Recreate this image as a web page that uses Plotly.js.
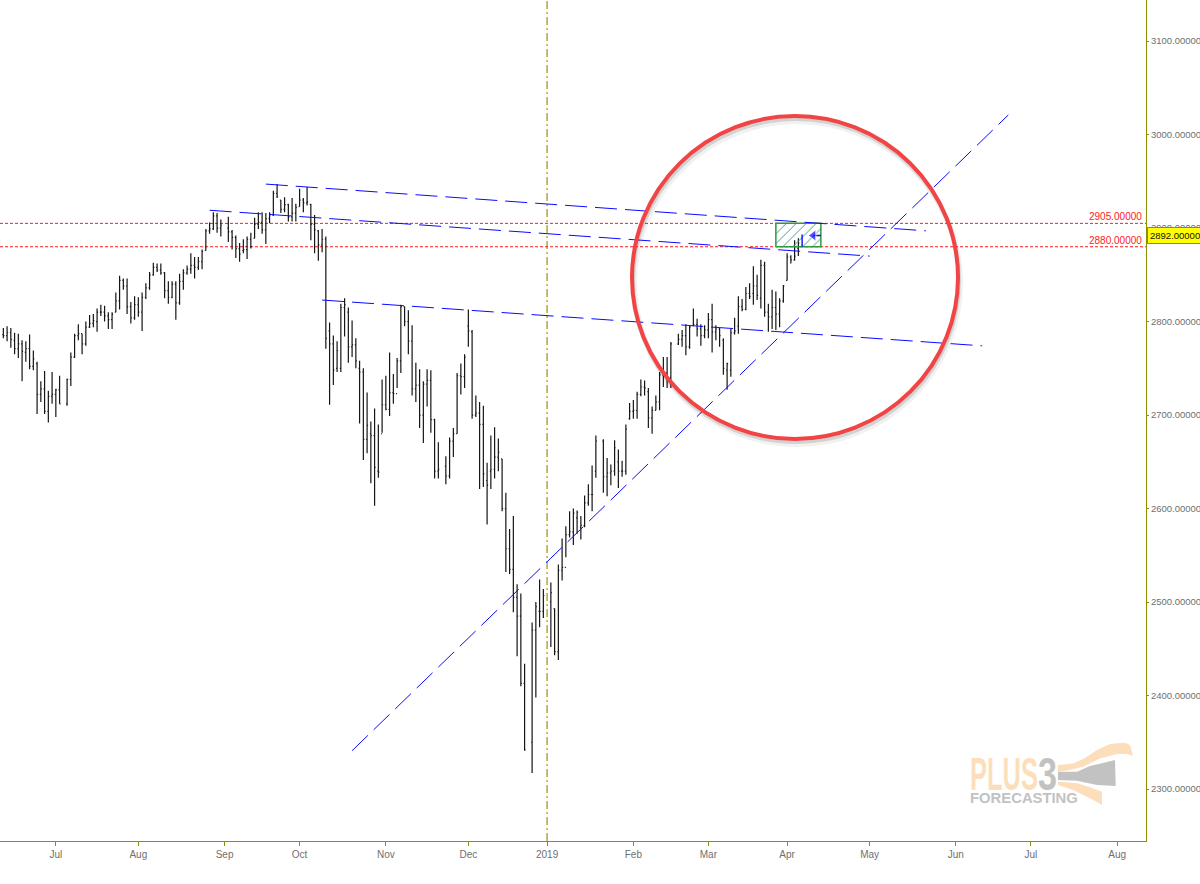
<!DOCTYPE html>
<html>
<head>
<meta charset="utf-8">
<script src="https://cdn.plot.ly/plotly-3.0.1.min.js"></script>
<style>html,body{margin:0;padding:0;background:#fff;overflow:hidden}#chart{width:1200px;height:884px}</style>
</head>
<body>
<div id="chart"></div>
<script>
const sessionDates = [
"2018-06-12","2018-06-13","2018-06-14","2018-06-15","2018-06-18","2018-06-19","2018-06-20","2018-06-21","2018-06-22","2018-06-25","2018-06-26","2018-06-27","2018-06-28","2018-06-29",
"2018-07-02","2018-07-03","2018-07-05","2018-07-06","2018-07-09","2018-07-10","2018-07-11","2018-07-12","2018-07-13","2018-07-16","2018-07-17","2018-07-18","2018-07-19","2018-07-20","2018-07-23","2018-07-24","2018-07-25","2018-07-26","2018-07-27","2018-07-30","2018-07-31",
"2018-08-01","2018-08-02","2018-08-03","2018-08-06","2018-08-07","2018-08-08","2018-08-09","2018-08-10","2018-08-13","2018-08-14","2018-08-15","2018-08-16","2018-08-17","2018-08-20","2018-08-21","2018-08-22","2018-08-23","2018-08-24","2018-08-27","2018-08-28","2018-08-29","2018-08-30","2018-08-31",
"2018-09-04","2018-09-05","2018-09-06","2018-09-07","2018-09-10","2018-09-11","2018-09-12","2018-09-13","2018-09-14","2018-09-17","2018-09-18","2018-09-19","2018-09-20","2018-09-21","2018-09-24","2018-09-25","2018-09-26","2018-09-27","2018-09-28",
"2018-10-01","2018-10-02","2018-10-03","2018-10-04","2018-10-05","2018-10-08","2018-10-09","2018-10-10","2018-10-11","2018-10-12","2018-10-15","2018-10-16","2018-10-17","2018-10-18","2018-10-19","2018-10-22","2018-10-23","2018-10-24","2018-10-25","2018-10-26","2018-10-29","2018-10-30","2018-10-31",
"2018-11-01","2018-11-02","2018-11-05","2018-11-06","2018-11-07","2018-11-08","2018-11-09","2018-11-12","2018-11-13","2018-11-14","2018-11-15","2018-11-16","2018-11-19","2018-11-20","2018-11-21","2018-11-23","2018-11-26","2018-11-27","2018-11-28","2018-11-29","2018-11-30",
"2018-12-03","2018-12-04","2018-12-05","2018-12-06","2018-12-07","2018-12-10","2018-12-11","2018-12-12","2018-12-13","2018-12-14","2018-12-17","2018-12-18","2018-12-19","2018-12-20","2018-12-21","2018-12-24","2018-12-26","2018-12-27","2018-12-28","2018-12-31",
"2019-01-02","2019-01-03","2019-01-04","2019-01-07","2019-01-08","2019-01-09","2019-01-10","2019-01-11","2019-01-14","2019-01-15","2019-01-16","2019-01-17","2019-01-18","2019-01-22","2019-01-23","2019-01-24","2019-01-25","2019-01-28","2019-01-29","2019-01-30","2019-01-31",
"2019-02-01","2019-02-04","2019-02-05","2019-02-06","2019-02-07","2019-02-08","2019-02-11","2019-02-12","2019-02-13","2019-02-14","2019-02-15","2019-02-19","2019-02-20","2019-02-21","2019-02-22","2019-02-25","2019-02-26","2019-02-27","2019-02-28",
"2019-03-01","2019-03-04","2019-03-05","2019-03-06","2019-03-07","2019-03-08","2019-03-11","2019-03-12","2019-03-13","2019-03-14","2019-03-15","2019-03-18","2019-03-19","2019-03-20","2019-03-21","2019-03-22","2019-03-25","2019-03-26","2019-03-27","2019-03-28","2019-03-29",
"2019-04-01","2019-04-02","2019-04-03","2019-04-04"];

const openVals = [
2786,2785,2788,2780,2771,2776,2767,2771,2752,2755,2722,2728,2704,2720,2722,2727,
2712,2738,2762,2785,2787,2776,2794,2798,2800,2810,2810,2806,2802,2810,2822,2844,2838,2816,2804,2818,
2810,2826,2836,2850,2858,2855,2852,2833,2826,2840,2820,2843,2852,2856,2860,2858,2864,2876,2897,2899,2913,2900,
2900,2896,2890,2878,2876,2877,2888,2889,2904,2906,2898,2910,2914,2937,2930,2920,2925,2912,2916,
2923,2930,2927,2925,2904,2897,2882,2888,2790,2776,2750,2750,2815,2810,2773,2775,2750,2746,2674,2680,2678,2640,2680,
2711,2706,2724,2723,2758,2816,2800,2779,2728,2732,2700,2733,2737,2695,2640,2645,2635,2672,2680,2742,2741,
2795,2789,2700,2702,2690,2630,2640,2642,2655,2653,2600,2557,2535,2505,2485,2413,2350,2470,2490,2490,
2500,2493,2447,2534,2537,2572,2575,2590,2580,2582,2606,2615,2640,2672,2634,2638,2640,2650,2640,2640,2696,
2704,2705,2722,2730,2725,2697,2705,2714,2743,2745,2740,2776,2781,2785,2773,2796,2797,2792,2785,
2791,2802,2789,2792,2780,2748,2748,2788,2795,2816,2813,2830,2830,2838,2825,2860,2810,2805,2815,2808,2822,
2844,2869,2866,2878];

const highVals = [
2793,2795,2793,2788,2787,2780,2779,2786,2769,2757,2736,2747,2726,2746,2728,2742,
2739,2767,2787,2797,2787,2800,2807,2808,2814,2818,2817,2810,2810,2831,2849,2846,2846,2821,2827,2826,
2831,2841,2853,2863,2862,2862,2853,2843,2843,2843,2851,2856,2860,2873,2869,2869,2877,2899,2906,2917,2916,2909,
2912,2898,2892,2884,2888,2891,2895,2911,2917,2917,2916,2917,2940,2947,2930,2933,2926,2932,2926,
2942,2932,2944,2926,2914,2898,2899,2891,2799,2785,2779,2819,2825,2815,2801,2782,2758,2750,2724,2693,2707,2690,2738,
2742,2767,2744,2761,2818,2816,2812,2796,2756,2749,2736,2749,2748,2696,2671,2656,2676,2686,2745,2755,2765,
2813,2791,2721,2714,2710,2649,2678,2687,2675,2653,2617,2578,2592,2519,2509,2434,2478,2500,2524,2514,
2521,2493,2540,2568,2581,2597,2600,2598,2592,2614,2626,2646,2678,2674,2654,2647,2673,2663,2651,2690,2713,
2716,2725,2738,2737,2729,2709,2721,2746,2762,2762,2778,2787,2791,2797,2796,2814,2803,2797,2796,
2809,2819,2796,2793,2782,2756,2792,2804,2827,2824,2837,2841,2859,2850,2866,2864,2819,2834,2832,2825,2839,
2873,2871,2887,2889];

const lowVals = [
2782,2779,2772,2765,2761,2736,2757,2749,2748,2701,2714,2701,2692,2712,2698,2712,
2710,2731,2761,2780,2765,2774,2793,2794,2789,2806,2800,2792,2792,2810,2813,2834,2808,2798,2802,2805,
2790,2824,2834,2849,2853,2850,2825,2819,2825,2802,2818,2834,2850,2851,2846,2855,2856,2876,2894,2898,2895,2891,
2885,2877,2868,2864,2873,2867,2878,2889,2899,2894,2883,2905,2913,2932,2916,2917,2907,2907,2907,
2923,2917,2924,2887,2873,2865,2874,2771,2711,2732,2746,2746,2784,2756,2762,2750,2691,2652,2659,2627,2603,2633,2681,
2705,2699,2712,2729,2745,2795,2765,2721,2714,2686,2670,2709,2681,2632,2632,2626,2632,2655,2680,2722,2729,
2773,2696,2698,2621,2623,2583,2621,2632,2640,2597,2532,2530,2489,2442,2410,2341,2317,2398,2473,2483,
2452,2443,2438,2523,2548,2569,2561,2573,2567,2580,2603,2597,2633,2617,2613,2625,2635,2622,2634,2636,2695,
2696,2696,2720,2721,2686,2680,2705,2705,2730,2729,2729,2775,2773,2764,2771,2795,2784,2774,2782,
2782,2767,2780,2773,2743,2727,2741,2786,2787,2811,2812,2824,2818,2823,2814,2805,2789,2792,2791,2794,2820,
2844,2862,2865,2870];

const closeVals = [
2785,2788,2781,2771,2776,2768,2771,2752,2760,2722,2728,2704,2720,2722,2727,2712,
2738,2762,2785,2787,2776,2794,2798,2801,2810,2810,2806,2802,2808,2822,2844,2838,2816,2804,2818,2810,
2826,2836,2850,2858,2855,2852,2833,2826,2840,2820,2843,2852,2856,2860,2858,2864,2875,2897,2899,2913,2900,2903,
2896,2890,2878,2872,2877,2888,2880,2904,2906,2898,2910,2914,2937,2934,2920,2925,2912,2916,2922,
2930,2927,2928,2904,2898,2882,2888,2782,2776,2748,2769,2815,2818,2773,2775,2758,2746,2674,2689,2678,2644,2639,2711,
2706,2724,2723,2758,2816,2800,2779,2728,2732,2700,2733,2737,2695,2640,2642,2635,2672,2680,2742,2741,2762,
2790,2700,2702,2690,2637,2625,2642,2655,2660,2600,2557,2535,2505,2485,2413,2342,2470,2495,2490,2507,
2510,2447,2534,2537,2572,2575,2595,2596,2582,2606,2615,2615,2672,2634,2638,2640,2665,2640,2640,2685,2704,
2705,2722,2730,2729,2697,2705,2714,2743,2745,2740,2776,2781,2785,2773,2794,2797,2792,2785,2791,
2802,2789,2792,2785,2750,2755,2788,2790,2816,2813,2830,2827,2838,2828,2860,2810,2805,2815,2808,2822,2838,
2869,2866,2870,2884];

const currentBar = {date:"2019-04-05", open:2884, high:2893, low:2880, close:2892};

const monthTickDates = ["2018-07-02","2018-08-01","2018-09-03","2018-10-01","2018-11-01","2018-12-03","2019-01-01","2019-02-01","2019-03-01","2019-04-01","2019-05-01","2019-06-03","2019-07-01","2019-08-01"];
const monthTickLabels = ["Jul","Aug","Sep","Oct","Nov","Dec","2019","Feb","Mar","Apr","May","Jun","Jul","Aug"];
const priceTicks = [2300,2400,2500,2600,2700,2800,2900,3000,3100];

const upperTrendX = ["2018-09-18","2019-05-22"], upperTrendY = [2947,2897];
const middleTrendX = ["2018-08-28","2019-05-01"], middleTrendY = [2919,2870];
const lowerTrendX = ["2018-10-09","2019-06-12"], lowerTrendY = [2823,2774];
const risingTrendX = ["2018-10-19","2019-06-21"], risingTrendY = [2341,3021];

const resistanceLevel = 2905, supportLevel = 2880, currentPrice = 2892;
const zoneX = ["2019-03-27","2019-04-12","2019-04-12","2019-03-27","2019-03-27"];
const zoneY = [supportLevel,supportLevel,resistanceLevel,resistanceLevel,supportLevel];
const arrowX = ["2019-04-12","2019-04-10"], arrowY = [currentPrice,currentPrice];
const yearMarkerDate = "2019-01-01";

const plotW = 1146, plotH = 841;
const px = v => v/plotW, py = v => 1-v/plotH;
const toPath = pts => 'M'+pts.map(p=>px(p[0]).toFixed(5)+','+py(p[1]).toFixed(5)).join(' L')+' Z';
const logoUpper = [[1058,765],[1073,763.5],[1085,758],[1097,750],[1110,744],[1124,742.7],[1127,743.5],[1130,745],[1133,756],[1127,754],[1117,754],[1100,758.5],[1083,766.7],[1070,770],[1058,771.7]];
const logoMiddle = [[1058,771.7],[1077,771.7],[1090,766],[1103,763],[1115,760],[1115.7,786],[1097,785],[1077,780.7],[1058,780]];
const logoLower = [[1058,781.7],[1077,783.3],[1090,787.3],[1102,791.7],[1102,805],[1090,798.3],[1073,790],[1058,785]];
const logoTextFit = {PLUS:[970,68],'3':[1038,19],FORECASTING:[970,108]};

const red = '#ff1a1a', olive = '#8f8f00', blue = '#0a0aff', tickGrey = '#6f6f6f';

const circle = (dx,dy,color,w,op) => ({type:'circle',xref:'paper',yref:'paper',layer:'above',
  x0:px(632+dx),x1:px(958+dx),y0:py(439+dy),y1:py(116+dy),line:{color:color,width:w},opacity:op});

const trend = (x,y) => ({type:'scatter',mode:'lines',x:x,y:y,hoverinfo:'skip',showlegend:false,
  line:{color:blue,width:1,dash:'22px,8px'}});

const data = [
  {type:'ohlc',x:sessionDates,open:openVals,high:highVals,low:lowVals,close:closeVals,tickwidth:0.27,
   increasing:{line:{color:'#151515',width:1.2}},decreasing:{line:{color:'#151515',width:1.2}},showlegend:false,hoverinfo:'skip'},
  {type:'scatter',mode:'lines',x:zoneX,y:zoneY,fill:'toself',fillcolor:'rgba(0,0,0,0)',
   fillpattern:{shape:'/',fgcolor:'#3d9e98',bgcolor:'rgba(255,255,255,0)',size:7,solidity:0.14},
   line:{color:'#2f9b3d',width:1.5},hoverinfo:'skip',showlegend:false},
  trend(upperTrendX,upperTrendY),trend(middleTrendX,middleTrendY),trend(lowerTrendX,lowerTrendY),trend(risingTrendX,risingTrendY),
  {type:'scatter',mode:'lines',x:[currentBar.date,currentBar.date],y:[currentBar.low,currentBar.high],
   line:{color:blue,width:1.4},hoverinfo:'skip',showlegend:false},
  {type:'scatter',mode:'lines+markers',x:arrowX,y:arrowY,line:{color:blue,width:1.5},
   marker:{symbol:'triangle-left',size:[0,10],color:blue},hoverinfo:'skip',showlegend:false}
];

const layout = {
  width:1200,height:884,margin:{l:0,r:54,t:0,b:43,pad:0},
  paper_bgcolor:'#fff',plot_bgcolor:'#fff',showlegend:false,
  font:{family:'"Liberation Sans",Arial,sans-serif',size:10,color:tickGrey},
  xaxis:{type:'date',range:['2018-06-11 02:40','2019-08-12 16:48'],rangebreaks:[{bounds:['sat','mon']}],
    rangeslider:{visible:false},showgrid:false,zeroline:false,showline:true,linecolor:olive,linewidth:1,
    ticks:'outside',ticklen:4,tickcolor:olive,tickmode:'array',tickvals:monthTickDates,ticktext:monthTickLabels,
    tickfont:{size:10,color:tickGrey},automargin:false},
  yaxis:{side:'right',range:[2244.4,3143.9],showgrid:false,zeroline:false,showline:true,linecolor:olive,linewidth:1,
    ticks:'outside',ticklen:2,tickcolor:olive,tickmode:'array',tickvals:priceTicks,ticktext:priceTicks.map(v=>v.toFixed(5)),
    tickfont:{size:9.5,color:tickGrey},ticklabelstandoff:0,automargin:false},
  shapes:[
    {type:'line',xref:'x',yref:'paper',x0:yearMarkerDate,x1:yearMarkerDate,y0:0,y1:1,layer:'below',
     line:{color:'#b3aa33',width:1.5,dash:'8px,3px,2px,3px'}},
    {type:'line',xref:'paper',yref:'y',x0:0,x1:1,y0:resistanceLevel,y1:resistanceLevel,layer:'below',line:{color:red,width:1,dash:'3px,2px'}},
    {type:'line',xref:'paper',yref:'y',x0:0,x1:1,y0:supportLevel,y1:supportLevel,layer:'below',line:{color:red,width:1,dash:'3px,2px'}},
    {type:'path',xref:'paper',yref:'paper',path:toPath(logoUpper),fillcolor:'#fcdfba',line:{width:0},layer:'below'},
    {type:'path',xref:'paper',yref:'paper',path:toPath(logoMiddle),fillcolor:'#c2c2c2',line:{width:0},layer:'below'},
    {type:'path',xref:'paper',yref:'paper',path:toPath(logoLower),fillcolor:'#fcdfba',line:{width:0},layer:'below'},
    circle(2,5,'#000',6,0.05),circle(1,3,'#000',4,0.12),circle(0,0,'#f24444',4,1)
  ],
  annotations:[
    {xref:'paper',yref:'y',x:1,xshift:-2,y:resistanceLevel,yshift:-1,xanchor:'right',yanchor:'bottom',text:resistanceLevel.toFixed(5),showarrow:false,font:{size:10,color:red}},
    {xref:'paper',yref:'y',x:1,xshift:-2,y:supportLevel,yshift:-1,xanchor:'right',yanchor:'bottom',text:supportLevel.toFixed(5),showarrow:false,font:{size:10,color:red}},
    {xref:'paper',yref:'y',x:1,xshift:1,y:currentPrice,xanchor:'left',yanchor:'middle',text:currentPrice.toFixed(5),showarrow:false,
     font:{size:9.5,color:'#111'},bgcolor:'#ffff00',bordercolor:olive,borderwidth:1,borderpad:2},
    {xref:'paper',yref:'paper',x:px(968),y:py(802),xanchor:'left',yanchor:'bottom',text:'<b>PLUS</b>',showarrow:false,
     font:{family:'"Liberation Sans Narrow","Liberation Sans"',size:46,color:'#fcdfba'}},
    {xref:'paper',yref:'paper',x:px(1037),y:py(802),xanchor:'left',yanchor:'bottom',text:'<b>3</b>',showarrow:false,
     font:{family:'"Liberation Sans Narrow","Liberation Sans"',size:46,color:'#c2c2c2'}},
    {xref:'paper',yref:'paper',x:px(968),y:py(808),xanchor:'left',yanchor:'bottom',text:'<b>FORECASTING</b>',showarrow:false,
     font:{family:'"Liberation Sans",sans-serif',size:14,color:'#c2c2c2'}}
  ]
};

Plotly.newPlot('chart',data,layout,{displayModeBar:false,staticPlot:true}).then(()=>{
  const svgLeft = document.querySelector('#chart svg').getBoundingClientRect().left;
  document.querySelectorAll('.annotation-text').forEach(t=>{
    const fit = logoTextFit[t.textContent.trim()];
    if(!fit) return;
    const box = t.getBBox(), rect = t.getBoundingClientRect();
    const offset = rect.left - svgLeft - box.x, f = fit[1]/box.width;
    t.setAttribute('transform','translate('+(fit[0]-offset-box.x*f)+',0) scale('+f+',1)');
  });
});
</script>
</body>
</html>
